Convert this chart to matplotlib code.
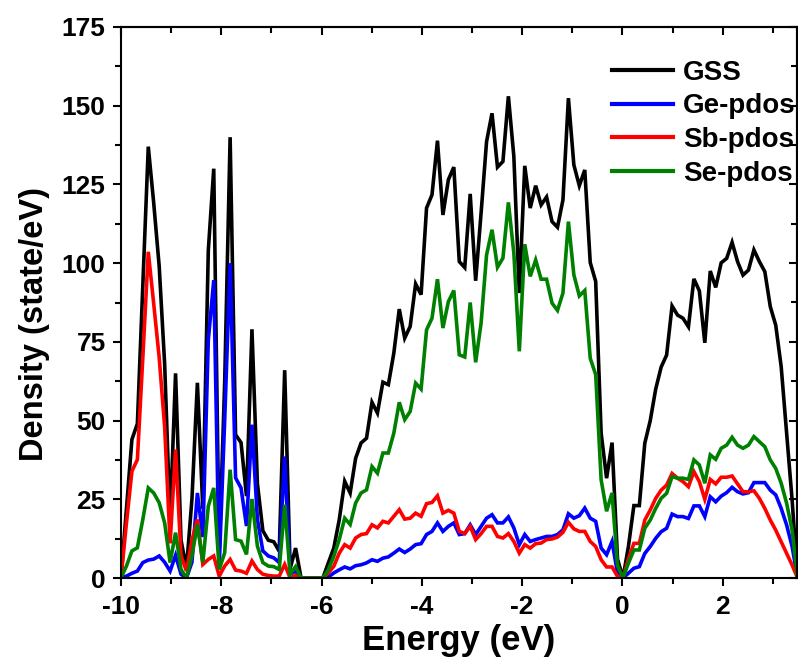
import numpy as np
import matplotlib
matplotlib.use("Agg")
import matplotlib.pyplot as plt
from matplotlib.ticker import MultipleLocator

# energy sampling grid (eV), 0.1088 eV step starting at -10 eV
energy = np.round(-10 + 0.1088 * np.arange(125), 4)

gss = [0, 22, 44, 49, 93, 137, 119, 99, 68, 18,
       65, 12, 3, 25, 62, 22, 104, 130, 8, 62,
       140, 45.5, 43, 26, 79, 30, 15, 12, 11.5, 8.5,
       66, 3, 9.5, 0, 0, 0, 0, 0, 4.8, 9.5,
       18.5, 30.7, 27, 38, 42.9, 44.4, 55.8, 52.4, 62.2, 61.4,
       71.4, 85.4, 76.2, 79.9, 93.4, 90, 117.5, 121.7, 138.9, 115.3,
       126.5, 130.5, 100.5, 98.6, 122, 94.4, 116, 138.6, 147.6, 130.5,
       132.3, 153, 133.9, 90.5, 130.9, 117.5, 124.6, 118.5, 121, 113.2,
       111.4, 120.1, 152.4, 131.2, 124.6, 129.6, 100.2, 94.2, 46, 31.7,
       43, 6, 0, 10, 23, 23, 42.8, 50, 60, 67,
       70.8, 86.4, 83.5, 82.5, 79.8, 95, 91.2, 74.7, 97.5, 92.3,
       100.1, 101.5, 106.6, 100.5, 96.2, 97.8, 104.2, 100.5, 97.3, 86.2,
       80.3, 67.1, 45.9, 24.8, 0]

ge = [0, 0.6, 1.5, 2.2, 4.9, 5.7, 6, 7, 5, 2.2,
      7.2, 1.2, 0, 5, 27, 13, 75.6, 94.6, 3.8, 50,
      100, 31.8, 28.6, 16.5, 48.7, 18.6, 8.6, 7, 6.4, 4.9,
      38.6, 1.2, 2.2, 0, 0, 0, 0, 0, 0.3, 1.6,
      2.6, 3.5, 2.9, 3.9, 4.2, 4.8, 5.8, 5.3, 6.3, 6.7,
      7.9, 9.2, 8.1, 9.2, 10.6, 10.9, 13.8, 14.8, 17.5, 14.8,
      16.4, 17.5, 13.8, 14.1, 16.9, 13.8, 16.4, 19, 20.1, 17.5,
      17.5, 19.4, 15.9, 10.6, 13.8, 11.6, 12.2, 12.7, 13.2, 13.2,
      13.8, 15.3, 20.4, 19, 19.8, 22.2, 19, 18, 9.5, 7.4,
      11.6, 1.5, 0, 1.5, 3.1, 3.6, 7.8, 10, 12.6, 14.7,
      15.8, 20.3, 19.5, 19.5, 18.9, 22.9, 22.9, 19.5, 25.8, 24.2,
      26, 27.1, 28.8, 27.4, 26.7, 27.1, 30.3, 30.3, 30.3, 27.9,
      26.4, 22.1, 16.8, 10, 0]

sb = [0, 17.5, 33.9, 37.6, 70, 103.6, 87, 70, 48, 11,
      40.8, 7, 2.2, 12, 18.6, 4.3, 5.9, 7, 0.6, 3.8,
      5.9, 2.5, 2.2, 1.5, 5.4, 2.7, 1.2, 0.8, 0.6, 0.6,
      4.3, 0, 0.8, 0, 0, 0, 0, 0, 1.6, 3.7,
      7.9, 10.6, 9.5, 12.7, 13.8, 14.1, 16.9, 15.9, 18, 17.5,
      19.6, 21.7, 18.7, 19, 20.6, 19.6, 23.6, 24, 26.1, 20.6,
      21.5, 20.6, 14.8, 14.1, 16.4, 12.2, 14.1, 16.4, 16.4, 13.2,
      12.7, 14.1, 11.6, 7.9, 10.6, 9.5, 10.9, 11.1, 12.2, 12.4,
      13, 14.5, 17.7, 15.6, 14.8, 14.8, 11.6, 10, 5.8, 3.5,
      3.5, 0.5, 0, 6, 11, 11, 18.4, 21.6, 25.3, 27.9,
      29.5, 33.2, 31.7, 30.6, 29, 33.8, 30.6, 25, 31.3, 29.9,
      32, 32, 32.4, 29.9, 27.4, 27.4, 27.7, 25.3, 22.1, 18.4,
      15.2, 11.5, 7.8, 4.1, 0]

se = [0, 3.8, 8.6, 9.6, 18.6, 28.6, 27, 23.9, 17.5, 4.9,
      14.4, 2.7, 0, 7, 17, 4.9, 22.8, 28.6, 2.7, 8,
      34.4, 12.2, 11.7, 7.5, 25.1, 10.1, 4.9, 3.8, 3.6, 2.7,
      23.3, 1.2, 3.6, 0, 0, 0, 0, 0, 2.6, 6.9,
      12.2, 19, 17, 23.8, 27, 28, 35.4, 33.3, 39.7, 39.7,
      46, 55.8, 50.3, 52.9, 61.9, 60, 78.8, 82.5, 94.9, 79.4,
      87.8, 91.3, 70.9, 70.2, 87.5, 68.5, 81, 102.6, 110.6, 98.7,
      101.6, 119.3, 103.2, 72, 106, 95.8, 101, 94.9, 94.9, 87.3,
      85, 90.5, 113.2, 96.3, 89.6, 91.3, 69.8, 64.6, 31.2, 21.2,
      27, 4, 0, 4.7, 8.9, 8.9, 15.8, 18.4, 22.1, 25.3,
      26.9, 32.2, 31.7, 31.7, 31.3, 37.5, 35.9, 30.1, 39.1, 37.7,
      41.2, 42.2, 44.7, 42.2, 41.2, 42.2, 44.9, 43.3, 41.7, 37.5,
      34.8, 30.1, 23.7, 15.2, 0]

labels = ["GSS", "Ge-pdos", "Sb-pdos", "Se-pdos"]
colors = ["black", "blue", "red", "green"]

plt.rcParams['font.family'] = ['Liberation Sans', 'DejaVu Sans']
plt.rcParams['font.weight'] = 'bold'
plt.rcParams['axes.unicode_minus'] = False

fig = plt.figure(figsize=(7.98, 6.68), dpi=100)
ax = fig.add_axes([121/798, 90/668, 676/798, 551/668])

for y, lab, c in zip([gss, ge, sb, se], labels, colors):
    ax.plot(energy, y, color=c, lw=2.6, label=lab, solid_joinstyle='miter')

ax.set_xlim(-10, 3.48)
ax.set_ylim(0, 175)
ax.xaxis.set_major_locator(MultipleLocator(2))
ax.xaxis.set_minor_locator(MultipleLocator(1))
ax.yaxis.set_major_locator(MultipleLocator(25))
ax.yaxis.set_minor_locator(MultipleLocator(12.5))
ax.tick_params(which='major', direction='out', length=6, width=1.5, labelsize=19)
ax.tick_params(which='minor', direction='out', length=4, width=1.5)
ax.tick_params(axis='x', which='major', pad=6)
ax.tick_params(axis='y', which='major', pad=5)
for lab in ax.get_xticklabels() + ax.get_yticklabels():
    lab.set_fontweight('bold')
for s in ax.spines.values():
    s.set_linewidth(1.5)

# mirrored inward ticks on top and right
axt = ax.secondary_xaxis('top')
axt.xaxis.set_major_locator(MultipleLocator(2))
axt.xaxis.set_minor_locator(MultipleLocator(1))
axt.tick_params(which='major', direction='in', length=6, width=1.5, labeltop=False)
axt.tick_params(which='minor', direction='in', length=4, width=1.5)
axr = ax.secondary_yaxis('right')
axr.yaxis.set_major_locator(MultipleLocator(25))
axr.yaxis.set_minor_locator(MultipleLocator(12.5))
axr.tick_params(which='major', direction='in', length=6, width=1.5, labelright=False)
axr.tick_params(which='minor', direction='in', length=4, width=1.5)
axt.spines['top'].set_linewidth(1.5)
axr.spines['right'].set_linewidth(1.5)

ax.set_xlabel("Energy (eV)", fontsize=25, fontweight='bold')
ax.xaxis.set_label_coords(0.5, -0.083)
ax.set_ylabel("Density (state/eV)", fontsize=23.5, fontweight='bold')
ax.yaxis.set_label_coords(-0.105, 0.461)

leg = ax.legend(loc='upper right', frameon=False, fontsize=20,
                handlelength=2.2, handletextpad=0.36, labelspacing=0.28,
                borderaxespad=0.0, borderpad=0.0,
                bbox_to_anchor=(0.998, 0.941))
for t in leg.get_texts():
    t.set_fontweight('bold')
for l in leg.get_lines():
    l.set_linewidth(3)

fig.savefig("out.png", dpi=100)
